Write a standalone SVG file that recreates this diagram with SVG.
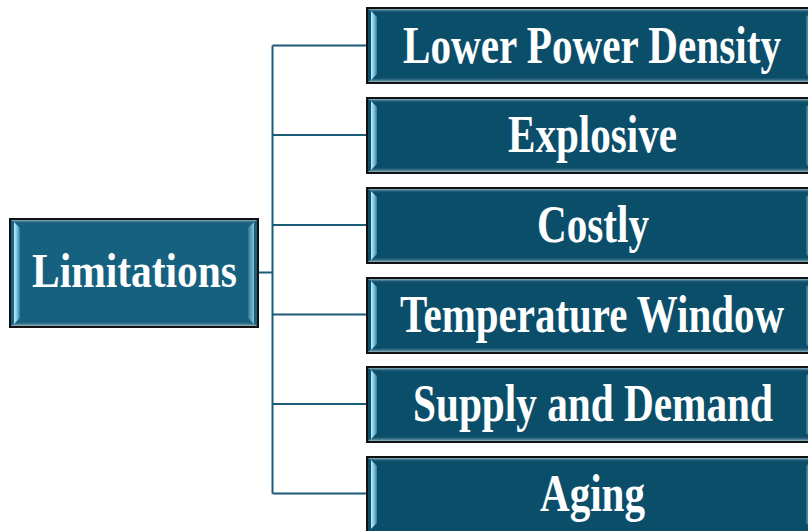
<svg xmlns="http://www.w3.org/2000/svg" width="808" height="531" viewBox="0 0 808 531">
  <defs>
    <linearGradient id="bevTop" x1="0" y1="0" x2="0" y2="1">
      <stop offset="0" stop-color="#8fb4c2"/>
      <stop offset="1" stop-color="#0b4e6a" stop-opacity="0"/>
    </linearGradient>
    <linearGradient id="bevBot" x1="0" y1="0" x2="0" y2="1">
      <stop offset="0" stop-color="#0b4e6a" stop-opacity="0"/>
      <stop offset="1" stop-color="#9ab6c0"/>
    </linearGradient>
    <linearGradient id="bevLeft" x1="0" y1="0" x2="1" y2="0">
      <stop offset="0" stop-color="#c4ecf8"/>
      <stop offset="0.5" stop-color="#7fc3dc"/>
      <stop offset="1" stop-color="#2f7c9c"/>
    </linearGradient>
    <linearGradient id="bevRight" x1="0" y1="0" x2="1" y2="0">
      <stop offset="0" stop-color="#2f7c9c"/>
      <stop offset="0.5" stop-color="#6fb0c8"/>
      <stop offset="1" stop-color="#a8d6e6"/>
    </linearGradient>
  </defs>
  <style>
    .box { stroke: #111; stroke-width: 2; }
    .main { fill: #0b4e6a; }
    .root { fill: #166080; }
    .lbl { font-family: "Liberation Serif", "Times New Roman", serif; font-weight: bold; fill: #ffffff; text-anchor: middle; }
    .conn { fill: none; stroke: #1c5b78; stroke-width: 2; }
  </style>

  <!-- connectors -->
  <g id="connectors" class="conn">
    <path d="M258 272.5 H272.5"/>
    <path d="M272.5 45.5 V493.5"/>
    <path d="M272.5 45.5 H367"/>
    <path d="M272.5 135 H367"/>
    <path d="M272.5 225 H367"/>
    <path d="M272.5 314.5 H367"/>
    <path d="M272.5 404 H367"/>
    <path d="M272.5 493.5 H367"/>
  </g>

  <!-- root node -->
  <g id="node-limitations">
    <rect class="box root" x="10" y="219" width="248" height="108"/>
    <polygon points="11,220 257,220 252,224 16,224" fill="url(#bevTop)"/>
    <polygon points="16,321 252,321 257,326 11,326" fill="url(#bevBot)"/>
    <polygon points="14,222 20,228 20,318 14,324" fill="url(#bevLeft)"/>
    <polygon points="248,228 254,222 254,324 248,318" fill="url(#bevRight)" opacity="0.8"/>
    <text class="lbl" transform="translate(134.5,287) scale(1,1.17)" font-size="41" textLength="205" lengthAdjust="spacingAndGlyphs">Limitations</text>
  </g>

  <!-- branch nodes -->
  <g id="node-power-density">
    <rect class="box main" x="367" y="8" width="450" height="75"/>
    <polygon points="368,9 816,9 811,13 373,13" fill="url(#bevTop)"/>
    <polygon points="373,77 811,77 816,82 368,82" fill="url(#bevBot)"/>
    <polygon points="371,11 377,17 377,74 371,80" fill="url(#bevLeft)"/>
    <polygon points="806,17 812,11 812,80 806,74" fill="url(#bevRight)" opacity="0.8"/>
    <text class="lbl" transform="translate(592,63) scale(1,1.24)" font-size="42" textLength="378" lengthAdjust="spacingAndGlyphs">Lower Power Density</text>
  </g>

  <g id="node-explosive">
    <rect class="box main" x="367" y="98" width="450" height="75"/>
    <polygon points="368,99 816,99 811,103 373,103" fill="url(#bevTop)"/>
    <polygon points="373,167 811,167 816,172 368,172" fill="url(#bevBot)"/>
    <polygon points="371,101 377,107 377,164 371,170" fill="url(#bevLeft)"/>
    <polygon points="806,107 812,101 812,170 806,164" fill="url(#bevRight)" opacity="0.8"/>
    <text class="lbl" transform="translate(592.5,152) scale(1,1.24)" font-size="42" textLength="169" lengthAdjust="spacingAndGlyphs">Explosive</text>
  </g>

  <g id="node-costly">
    <rect class="box main" x="367" y="188" width="450" height="75"/>
    <polygon points="368,189 816,189 811,193 373,193" fill="url(#bevTop)"/>
    <polygon points="373,257 811,257 816,262 368,262" fill="url(#bevBot)"/>
    <polygon points="371,191 377,197 377,254 371,260" fill="url(#bevLeft)"/>
    <polygon points="806,197 812,191 812,260 806,254" fill="url(#bevRight)" opacity="0.8"/>
    <text class="lbl" transform="translate(593,242) scale(1,1.24)" font-size="42" textLength="112" lengthAdjust="spacingAndGlyphs">Costly</text>
  </g>

  <g id="node-temperature-window">
    <rect class="box main" x="367" y="278" width="450" height="75"/>
    <polygon points="368,279 816,279 811,283 373,283" fill="url(#bevTop)"/>
    <polygon points="373,347 811,347 816,352 368,352" fill="url(#bevBot)"/>
    <polygon points="371,281 377,287 377,344 371,350" fill="url(#bevLeft)"/>
    <polygon points="806,287 812,281 812,350 806,344" fill="url(#bevRight)" opacity="0.8"/>
    <text class="lbl" transform="translate(592,332) scale(1,1.24)" font-size="42" textLength="384" lengthAdjust="spacingAndGlyphs">Temperature Window</text>
  </g>

  <g id="node-supply-demand">
    <rect class="box main" x="367" y="367" width="450" height="75"/>
    <polygon points="368,368 816,368 811,372 373,372" fill="url(#bevTop)"/>
    <polygon points="373,436 811,436 816,441 368,441" fill="url(#bevBot)"/>
    <polygon points="371,370 377,376 377,433 371,439" fill="url(#bevLeft)"/>
    <polygon points="806,376 812,370 812,439 806,433" fill="url(#bevRight)" opacity="0.8"/>
    <text class="lbl" transform="translate(593,421) scale(1,1.24)" font-size="42" textLength="360" lengthAdjust="spacingAndGlyphs">Supply and Demand</text>
  </g>

  <g id="node-aging">
    <rect class="box main" x="367" y="457" width="450" height="75"/>
    <polygon points="368,458 816,458 811,462 373,462" fill="url(#bevTop)"/>
    <polygon points="371,460 377,466 377,523 371,529" fill="url(#bevLeft)"/>
    <polygon points="806,466 812,460 812,529 806,523" fill="url(#bevRight)" opacity="0.8"/>
    <text class="lbl" transform="translate(592.5,511) scale(1,1.24)" font-size="42" textLength="105" lengthAdjust="spacingAndGlyphs">Aging</text>
  </g>
</svg>
